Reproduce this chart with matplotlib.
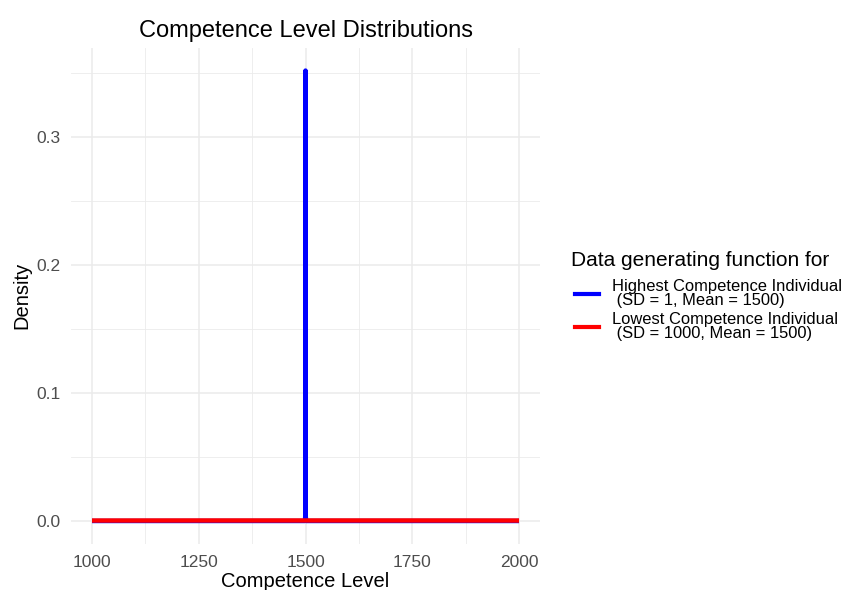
import numpy as np
import matplotlib
matplotlib.use("Agg")
from matplotlib import pyplot as plt
from matplotlib.lines import Line2D

plt.rcParams['font.family'] = ['Liberation Sans', 'DejaVu Sans']

# values
high_x = [1000, 1498.5, 1499.5, 1500, 1500.5, 1501.5, 2000]
high_y = [0.0, 0.0, 0.004, 0.352, 0.004, 0.0, 0.0]
low_x = [1000, 1250, 1500, 1750, 2000]
low_y = [0.00035, 0.00039, 0.0004, 0.00039, 0.00035]

x_ticks = [1000, 1250, 1500, 1750, 2000]
y_ticks = [0.0, 0.1, 0.2, 0.3]
labels = ["Highest Competence Individual\n (SD = 1, Mean = 1500)",
          "Lowest Competence Individual\n (SD = 1000, Mean = 1500)"]
colors = ["#0000FF", "#FF0000"]

fig = plt.figure(figsize=(8.45, 5.9), dpi=100)
ax = fig.add_axes([0.0836, 0.0788, 0.5559, 0.8398])

ax.plot(high_x, high_y, color=colors[0], lw=3.2, solid_capstyle='butt')
ax.plot(low_x, low_y, color=colors[1], lw=3.2, solid_capstyle='butt')

ax.set_xlim(950, 2050)
ax.set_ylim(-0.0176, 0.3696)
ax.set_xticks(x_ticks)
ax.set_yticks(y_ticks)
ax.set_xticks([1125, 1375, 1625, 1875], minor=True)
ax.set_yticks([0.05, 0.15, 0.25, 0.35], minor=True)
ax.set_xticklabels([str(v) for v in x_ticks])
ax.set_yticklabels(["%.1f" % v for v in y_ticks])
ax.grid(which='major', color='#EBEBEB', lw=1.1)
ax.grid(which='minor', color='#EBEBEB', lw=0.6)
ax.set_axisbelow(True)
ax.tick_params(which='both', length=0, labelsize=12.5, labelcolor='#4D4D4D')
ax.tick_params(axis='x', pad=8)
ax.tick_params(axis='y', pad=7)
for sp in ax.spines.values():
    sp.set_visible(False)

ax.set_xlabel("Competence Level", fontsize=14.5, labelpad=2)
ax.set_ylabel("Density", fontsize=14.5, labelpad=4)
ax.set_title("Competence Level Distributions", fontsize=17, pad=8)

# legend title drawn separately, ggplot puts more room under it
fig.text(571 / 845, 1 - 261 / 590, "Data generating function for",
         fontsize=15, ha='left', va='center')
handles = [Line2D([], [], color=c, lw=3) for c in colors]
leg = fig.legend(handles, labels, loc='center left', bbox_to_anchor=(0.681, 1 - 310 / 590),
                 frameon=False, fontsize=11.9, handlelength=1.4, handletextpad=0.8,
                 labelspacing=0.25, borderaxespad=0, borderpad=0)
for t in leg.get_texts():
    t.set_linespacing(0.88)

fig.savefig("out.png", dpi=100)
